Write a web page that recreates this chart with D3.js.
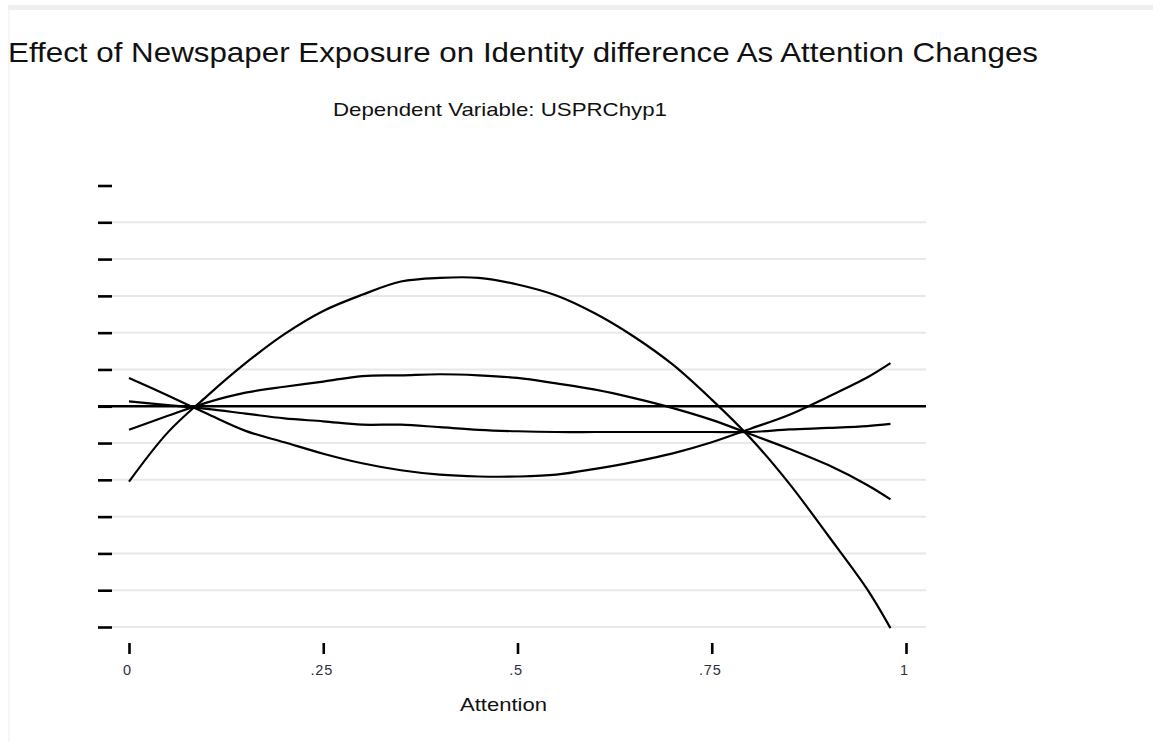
<!DOCTYPE html>
<html>
<head>
<meta charset="utf-8">
<script src="https://cdn.jsdelivr.net/npm/d3@7"></script>
<style>
  html, body { margin: 0; padding: 0; background: #ffffff; }
  svg { display: block; }
  text { font-family: "Liberation Sans", Arial, sans-serif; }
</style>
</head>
<body>
<svg id="chart" width="1153" height="742"></svg>
<script>
// ---- data ----
const titleText = "Effect of Newspaper Exposure on Identity difference As Attention Changes";
const subtitleText = "Dependent Variable: USPRChyp1";
const xAxisTitle = "Attention";

const attention = [0, 0.05, 0.10, 0.15, 0.20, 0.25, 0.30, 0.35, 0.40, 0.45, 0.50,
                   0.55, 0.60, 0.65, 0.70, 0.75, 0.80, 0.85, 0.90, 0.95, 0.98];
const seriesA = [-2.05, -0.71, 0.27, 1.17, 1.96, 2.59, 3.03, 3.39, 3.49, 3.49, 3.31,
                 3.01, 2.52, 1.89, 1.13, 0.18, -0.87, -2.11, -3.52, -4.97, -6.03];
const seriesB = [-0.64, -0.26, 0.10, 0.37, 0.53, 0.67, 0.82, 0.84, 0.87, 0.84, 0.77,
                 0.62, 0.45, 0.22, -0.05, -0.37, -0.76, -1.16, -1.60, -2.14, -2.53];
const seriesC = [0.13, 0.03, -0.07, -0.20, -0.33, -0.41, -0.50, -0.50, -0.57, -0.64, -0.68,
                 -0.70, -0.70, -0.70, -0.70, -0.70, -0.70, -0.63, -0.59, -0.54, -0.48];
const seriesD = [0.77, 0.29, -0.20, -0.67, -0.98, -1.29, -1.55, -1.74, -1.86, -1.91, -1.91,
                 -1.86, -1.70, -1.51, -1.28, -0.98, -0.61, -0.23, 0.26, 0.78, 1.17];

const xTickValues = [0, 0.25, 0.5, 0.75, 1];
const xTickLabels = ["0", ".25", ".5", ".75", "1"];
const yTickValues = [-6, -5, -4, -3, -2, -1, 0, 1, 2, 3, 4, 5, 6];

// ---- drawing ----
const svg = d3.select("#chart");

// frame decorations
svg.append("rect").attr("x", 8).attr("y", 5).attr("width", 1145).attr("height", 5).attr("fill", "#efefef");
svg.append("rect").attr("x", 8).attr("y", 10).attr("width", 2).attr("height", 732).attr("fill", "#f6f6f6");

const x = d3.scaleLinear().domain([0, 1]).range([129, 906]);
const y = d3.scaleLinear().domain([-6, 6]).range([627, 185.5]);

// titles
svg.append("text").attr("x", 8).attr("y", 62)
  .attr("font-size", 28).attr("fill", "#111")
  .attr("textLength", 1030).attr("lengthAdjust", "spacingAndGlyphs")
  .text(titleText);
svg.append("text").attr("x", 333).attr("y", 116)
  .attr("font-size", 19).attr("fill", "#111")
  .attr("textLength", 334).attr("lengthAdjust", "spacingAndGlyphs")
  .text(subtitleText);

// gridlines
svg.append("g").selectAll("line")
  .data(yTickValues.filter(v => v !== 0 && v !== 6))
  .join("line")
  .attr("x1", 112).attr("x2", 926)
  .attr("y1", d => y(d)).attr("y2", d => y(d))
  .attr("stroke", "#e8e8e8").attr("stroke-width", 2);

// y axis ticks (no labels)
const yAxis = d3.axisLeft(y).tickValues(yTickValues).tickSize(14).tickFormat("");
const gy = svg.append("g").attr("transform", "translate(112,0)").call(yAxis);
gy.select(".domain").remove();
gy.selectAll(".tick line").attr("stroke", "#000").attr("stroke-width", 2.6);

// x axis
const xAxis = d3.axisBottom(x).tickValues(xTickValues).tickSize(11)
  .tickFormat((d, i) => xTickLabels[i]);
const gx = svg.append("g").attr("transform", "translate(0,643)").call(xAxis);
gx.attr("font-size", null).attr("font-family", null);
gx.select(".domain").remove();
gx.selectAll(".tick line").attr("stroke", "#000").attr("stroke-width", 2.6);
gx.selectAll(".tick text")
  .attr("y", 32).attr("dy", 0).attr("dx", -2)
  .style("font-size", "14.5px").style("letter-spacing", "0.8px").attr("fill", "#2a3345")
  .style("font-family", "'Liberation Sans', Arial, sans-serif");

// x axis title
svg.append("text").attr("x", 460).attr("y", 711)
  .attr("font-size", 19).attr("fill", "#111")
  .attr("textLength", 87).attr("lengthAdjust", "spacingAndGlyphs")
  .text(xAxisTitle);

// zero line
svg.append("line")
  .attr("x1", 98).attr("x2", 926)
  .attr("y1", y(0)).attr("y2", y(0))
  .attr("stroke", "#000").attr("stroke-width", 2.6);

// curves
const line = d3.line()
  .x((d, i) => x(attention[i]))
  .y(d => y(d))
  .curve(d3.curveCatmullRom.alpha(0.5));

svg.append("g").selectAll("path")
  .data([seriesA, seriesB, seriesC, seriesD])
  .join("path")
  .attr("d", d => line(d))
  .attr("fill", "none")
  .attr("stroke", "#000")
  .attr("stroke-width", 2.2);
</script>
</body>
</html>
